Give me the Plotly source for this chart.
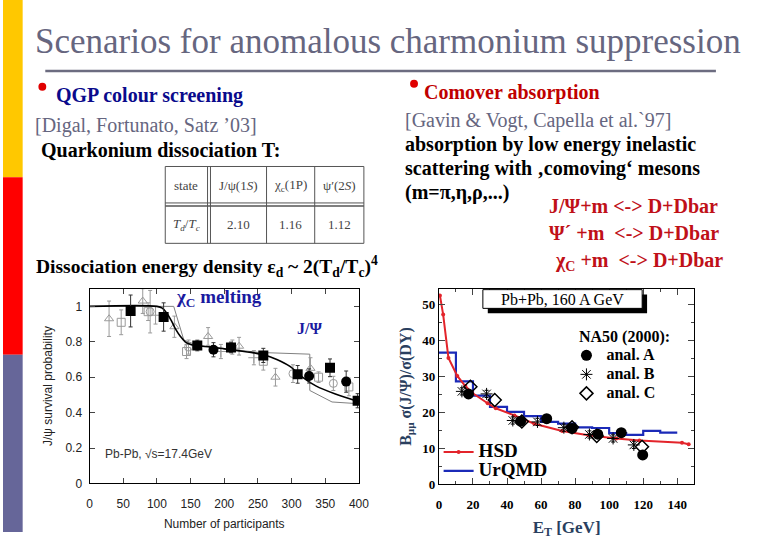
import plotly.graph_objects as go

# ---------------- left panel: J/psi survival probability vs N_part ----------------
npart_sq = [61, 110, 160, 210, 258, 309, 357, 398]
surv_sq = [0.974, 0.94, 0.779, 0.768, 0.723, 0.616, 0.653, 0.467]
err_sq = [0.09, 0.08, 0.03, 0.03, 0.04, 0.05, 0.05, 0.04]

npart_ci = [184, 326, 381]
surv_ci = [0.755, 0.607, 0.575]
err_ci = [0.04, 0.04, 0.06]

npart_tri = [29, 79, 126, 176, 222, 276, 328]
surv_tri = [0.93, 1.03, 0.885, 0.83, 0.775, 0.60, 0.65]
err_tri = [0.10, 0.07, 0.06, 0.05, 0.05, 0.05, 0.06]

npart_osq = [47, 87, 144, 258, 340, 385]
surv_osq = [0.91, 0.97, 0.745, 0.69, 0.60, 0.545]
err_osq = [0.07, 0.05, 0.04, 0.05, 0.03, 0.05]

npart_oci = [90, 147, 212, 302, 362]
surv_oci = [0.97, 0.77, 0.77, 0.62, 0.565]
err_oci = [0.12, 0.04, 0.04, 0.05, 0.04]

npart_plus = [98, 195, 244]
surv_plus = [0.95, 0.745, 0.71]
err_plus = [0.05, 0.04, 0.04]

curve_n = [0, 100, 108, 115, 122, 128, 135, 142, 150, 160, 180, 200, 220, 240, 260, 278, 297, 317, 336, 365, 400]
curve_p = [1.0, 1.0, 0.99, 0.96, 0.915, 0.87, 0.83, 0.80, 0.785, 0.778, 0.77, 0.76, 0.75, 0.74, 0.725, 0.70, 0.662, 0.598, 0.551, 0.505, 0.462]

step_n = [0, 125, 140, 160, 250, 327, 327, 360, 400]
step_p = [1.0, 1.0, 0.81, 0.78, 0.74, 0.73, 0.525, 0.46, 0.45]

# ---------------- right panel: B sigma(J/psi)/sigma(DY) vs E_T ----------------
et_hsd = [0.6, 2.5, 5.6, 10.8, 15.5, 19.5, 28.6, 33.4, 44.4, 56, 72.4, 87.8, 104.2, 117.8, 142.8, 146.7]
hsd = [52.6, 47.3, 35.2, 30.2, 27.4, 25.5, 22.6, 21.2, 19.2, 16.9, 14.9, 13.7, 12.8, 12.2, 11.6, 11.2]

et_urqmd = [0, 10, 20, 30, 40, 50, 60, 70, 80, 90, 100, 110, 120, 130, 140]
urqmd = [36.7, 28.7, 24.7, 21.6, 20.2, 19.0, 17.4, 16.9, 15.9, 15.7, 14.3, 13.8, 14.9, 14.4, 14.4]

et_a = [17.4, 48, 63.3, 78.2, 93.3, 107.1, 119.7]
anal_a = [25.2, 17.6, 18.3, 15.6, 14.0, 14.4, 8.2]
et_b = [13.5, 28, 43.4, 57.9, 73.4, 88.4, 102.3, 114.5]
anal_b = [25.9, 25.2, 17.8, 17.4, 15.8, 13.9, 12.8, 11.0]
et_c = [18.5, 32.8, 48.7, 78.2, 92.7, 119.3]
anal_c = [27.2, 23.5, 17.5, 15.9, 13.5, 10.5]

# ---------------- table ----------------
table_head = ["state", "J/ψ(1<i>S</i>)", "χ<sub>c</sub>(1P)", "ψ′(2<i>S</i>)"]
table_row = ["<i>T<sub>d</sub></i>/<i>T<sub>c</sub></i>", "2.10", "1.16", "1.12"]

W, H = 780, 540


def px(x):
    return x / W


def py(y):
    return 1 - y / H


SERIF = "Liberation Serif"
SANS = "Liberation Sans"
GRAY = "#9a9a9a"


def big(t, size):
    # legend rows are spaced by the legend font size, the text itself is drawn larger
    return '<span style="font-size:%dpx"><b>%s</b></span>' % (size, t)


fig = go.Figure()

# left panel traces
fig.add_trace(go.Scatter(x=step_n, y=step_p, mode="lines", line=dict(color="#808080", width=1),
                         xaxis="x", yaxis="y", showlegend=False))
for xs, ys, es, sym in [(npart_tri, surv_tri, err_tri, "triangle-up-open"),
                        (npart_osq, surv_osq, err_osq, "square-open"),
                        (npart_oci, surv_oci, err_oci, "circle-open"),
                        (npart_plus, surv_plus, err_plus, "cross-thin-open")]:
    fig.add_trace(go.Scatter(x=xs, y=ys, mode="markers", xaxis="x", yaxis="y", showlegend=False,
                             marker=dict(symbol=sym, size=8, color=GRAY, line=dict(color=GRAY, width=1)),
                             error_y=dict(type="data", array=es, color=GRAY, thickness=1, width=2)))
fig.add_trace(go.Scatter(x=curve_n, y=curve_p, mode="lines", line=dict(color="black", width=1.6, shape="spline"),
                         xaxis="x", yaxis="y", showlegend=False))
fig.add_trace(go.Scatter(x=npart_sq, y=surv_sq, mode="markers", xaxis="x", yaxis="y", showlegend=False,
                         marker=dict(symbol="square", size=10, color="black"),
                         error_y=dict(type="data", array=err_sq, color="#333", thickness=1, width=2)))
fig.add_trace(go.Scatter(x=npart_ci, y=surv_ci, mode="markers", xaxis="x", yaxis="y", showlegend=False,
                         marker=dict(symbol="circle", size=10, color="black"),
                         error_y=dict(type="data", array=err_ci, color="#333", thickness=1, width=2)))

# right panel traces
fig.add_trace(go.Scatter(x=et_urqmd, y=urqmd, mode="lines", name=big("UrQMD", 19), legend="legend2",
                         line=dict(color="#1b2ab8", width=2.2, shape="hv"), xaxis="x2", yaxis="y2"))
fig.add_trace(go.Scatter(x=et_hsd, y=hsd, mode="lines+markers", name=big("HSD", 19), legend="legend2",
                         line=dict(color="#e3242b", width=2), marker=dict(size=4, color="#e3242b"),
                         xaxis="x2", yaxis="y2"))
fig.add_trace(go.Scatter(x=et_a, y=anal_a, mode="markers", name=big("anal. A", 16), legend="legend",
                         marker=dict(symbol="circle", size=11, color="black"),
                         error_y=dict(type="constant", value=0.8, color="black", thickness=1, width=2),
                         xaxis="x2", yaxis="y2"))
fig.add_trace(go.Scatter(x=et_b, y=anal_b, mode="markers", name=big("anal. B", 16), legend="legend",
                         marker=dict(symbol="asterisk-open", size=10, color="black", line=dict(color="black", width=1)),
                         error_y=dict(type="constant", value=1.0, color="black", thickness=1, width=2),
                         xaxis="x2", yaxis="y2"))
fig.add_trace(go.Scatter(x=et_c, y=anal_c, mode="markers", name=big("anal. C", 16), legend="legend",
                         marker=dict(symbol="diamond-open", size=10, color="black", line=dict(color="black", width=1.5)),
                         xaxis="x2", yaxis="y2"))

# ---------------- shapes ----------------
shapes = [
    dict(type="rect", xref="paper", yref="paper", x0=0, x1=px(20), y0=py(0), y1=py(180),
         fillcolor="#ffc800", line_width=0, layer="below"),
    dict(type="rect", xref="paper", yref="paper", x0=0, x1=px(20), y0=py(180), y1=py(360),
         fillcolor="#ff0000", line_width=0, layer="below"),
    dict(type="rect", xref="paper", yref="paper", x0=0, x1=px(20), y0=py(360), y1=py(540),
         fillcolor="#666699", line_width=0, layer="below"),
    dict(type="line", xref="paper", yref="paper", x0=px(43), x1=px(725), y0=py(72), y1=py(72),
         line=dict(color="#6c6c80", width=2.5)),
    # bullets
    dict(type="circle", xref="paper", yref="paper", x0=px(36), x1=px(44), y0=py(84), y1=py(92),
         fillcolor="#e00000", line_width=0),
    dict(type="circle", xref="paper", yref="paper", x0=px(414), x1=px(422), y0=py(81), y1=py(89),
         fillcolor="#e00000", line_width=0),
    # Pb+Pb box with shadow
    dict(type="rect", xref="paper", yref="paper", x0=px(493), x1=px(655), y0=py(299), y1=py(318),
         fillcolor="black", line_width=0),
    dict(type="rect", xref="paper", yref="paper", x0=px(488), x1=px(650), y0=py(294), y1=py(313),
         fillcolor="white", line=dict(color="black", width=1)),
]

# table grid
tl, tr, tt, tb = 165, 367, 169, 247
tcol = [208, 268, 317]
shapes.append(dict(type="rect", xref="paper", yref="paper", x0=px(tl), x1=px(tr), y0=py(tt), y1=py(tb),
                   line=dict(color="#555", width=1)))
shapes.append(dict(type="line", xref="paper", yref="paper", x0=px(tl), x1=px(tr), y0=py(206), y1=py(206),
                   line=dict(color="#555", width=1)))
shapes.append(dict(type="line", xref="paper", yref="paper", x0=px(tl), x1=px(tr), y0=py(209), y1=py(209),
                   line=dict(color="#555", width=1.5)))
shapes.append(dict(type="line", xref="paper", yref="paper", x0=px(211), x1=px(211), y0=py(tt), y1=py(tb),
                   line=dict(color="#555", width=1)))
for cx in tcol:
    shapes.append(dict(type="line", xref="paper", yref="paper", x0=px(cx), x1=px(cx), y0=py(tt), y1=py(tb),
                       line=dict(color="#555", width=1)))

# ---------------- annotations ----------------
ann = []


def text(x, y, t, size=20, color="black", family=SERIF, xanchor="left", weight="bold"):
    ann.append(dict(xref="paper", yref="paper", x=px(x), y=py(y), text=t, showarrow=False,
                    xanchor=xanchor, yanchor="middle",
                    font=dict(family=family, size=size, color=color, weight=weight)))


text(31, 42, "Scenarios for anomalous charmonium suppression", size=35, color="#66667f", weight="normal")
text(52, 97, "QGP colour screening", color="#0a0a8c")
text(31, 127, "[Digal, Fortunato, Satz ’03]", color="#666680", weight="normal")
text(37, 152, "Quarkonium dissociation T:")
text(32, 270, "Dissociation energy density ε<sub>d</sub> ~ 2(T<sub>d</sub>/T<sub>c</sub>)<sup>4</sup>", size=19.5)
text(426, 94, "Comover absorption", color="#c00000")
text(407, 122, "[Gavin & Vogt, Capella et al.`97]", color="#666680", weight="normal")
text(407, 147, "absorption by low energy inelastic")
text(407, 171, "scattering with ‚comoving‘ mesons")
text(407, 195, "(m=π,η,ρ,...)")
text(553, 209, "J/Ψ+m &lt;-&gt; D+Dbar", color="#c01018")
text(553, 237, "Ψ´ +m  &lt;-&gt; D+Dbar", color="#c01018")
text(559, 265, "χ<sub>C</sub> +m  &lt;-&gt; D+Dbar", color="#c01018")
text(174, 302, "χ<sub>C</sub> melting", size=19, color="#1a1aa0")
text(297, 333, "J/Ψ", size=16, color="#1a1aa0")
text(102, 461, "Pb-Pb, √s=17.4GeV", size=12, color="#333", family=SANS, weight="normal")
text(569, 303.5, "Pb+Pb, 160 A GeV", size=16, xanchor="center", weight="normal")
text(584, 342, "NA50 (2000):", size=16)

hx = [186.5, 239, 292.5, 342]
for i in range(4):
    text(hx[i], 188, table_head[i], size=13, color="#444", xanchor="center", weight="normal")
    text(hx[i], 228, table_row[i], size=13, color="#444", xanchor="center", weight="normal")

tick_sans = dict(family=SANS, size=12, color="#222")
tick_serif = dict(family=SERIF, size=13, color="black", weight="bold")

fig.update_layout(
    width=W, height=H, margin=dict(l=0, r=0, t=0, b=0),
    paper_bgcolor="white", plot_bgcolor="white",
    shapes=shapes, annotations=ann,
    xaxis=dict(domain=[px(88), px(362)], range=[0, 400], tickvals=[0, 50, 100, 150, 200, 250, 300, 350, 400],
               ticks="inside", ticklen=5, showline=True, linecolor="black", linewidth=1, mirror="ticks",
               showgrid=False, zeroline=False, tickfont=tick_sans, anchor="y", ticklabelstandoff=9,
               title=dict(text="Number of participants", font=tick_sans, standoff=9)),
    yaxis=dict(domain=[py(490.7), py(293)], range=[0, 1.1], tickvals=[0, 0.2, 0.4, 0.6, 0.8, 1],
               ticktext=["0", "0.2", "0.4", "0.6", "0.8", "1"],
               ticks="inside", ticklen=5, showline=True, linecolor="black", linewidth=1, mirror="ticks",
               showgrid=False, zeroline=False, tickfont=tick_sans, anchor="x", ticklabelstandoff=4,
               title=dict(text="J/ψ survival probability", font=tick_sans, standoff=10)),
    xaxis2=dict(domain=[px(443.3), px(703)], range=[0, 150], tickvals=[0, 20, 40, 60, 80, 100, 120, 140],
                minor=dict(dtick=10, ticks="inside", ticklen=3), ticks="inside", ticklen=6,
                showline=True, linecolor="black", linewidth=1.2, mirror="ticks", ticklabelstandoff=8,
                showgrid=False, zeroline=False, tickfont=tick_serif, anchor="y2",
                title=dict(text="<b>E<sub>T</sub> [GeV]</b>", font=dict(family=SERIF, size=17), standoff=9)),
    yaxis2=dict(domain=[py(491.7), py(293)], range=[0, 54.5], dtick=10,
                minor=dict(dtick=5, ticks="inside", ticklen=3), ticks="inside", ticklen=6,
                showline=True, linecolor="black", linewidth=1.2, mirror="ticks",
                showgrid=False, zeroline=False, tickfont=tick_serif, anchor="x2",
                title=dict(text="<b>B<sub>μμ</sub> σ(J/Ψ)/σ(DY)</b>", font=dict(family=SERIF, size=16), standoff=6)),
    legend=dict(x=px(573), y=py(346), xanchor="left", yanchor="top", bgcolor="rgba(0,0,0,0)",
                font=dict(family=SERIF, size=11, color="black"), tracegroupgap=0, itemwidth=30),
    legend2=dict(x=px(443), y=py(444), xanchor="left", yanchor="top", bgcolor="rgba(0,0,0,0)",
                 font=dict(family=SERIF, size=12, color="black"), traceorder="reversed", itemwidth=30),
)

fig.write_html("out.html", post_script="document.body.style.margin='0';",
               config={"displayModeBar": False})
